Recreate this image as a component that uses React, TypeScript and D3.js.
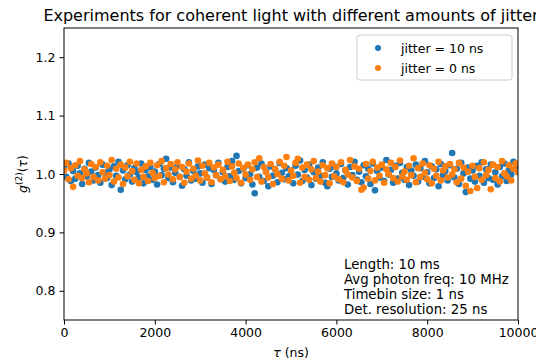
import React, { useEffect, useRef } from "react";
import * as d3 from "d3";

// tau in ns, one sample every 50 ns
const tau = [
  0, 50, 100, 150, 200, 250, 300, 350, 400, 450, 500, 550, 600, 650, 700, 750, 800, 850, 900, 950,
  1000, 1050, 1100, 1150, 1200, 1250, 1300, 1350, 1400, 1450, 1500, 1550, 1600, 1650, 1700, 1750, 1800, 1850, 1900, 1950,
  2000, 2050, 2100, 2150, 2200, 2250, 2300, 2350, 2400, 2450, 2500, 2550, 2600, 2650, 2700, 2750, 2800, 2850, 2900, 2950,
  3000, 3050, 3100, 3150, 3200, 3250, 3300, 3350, 3400, 3450, 3500, 3550, 3600, 3650, 3700, 3750, 3800, 3850, 3900, 3950,
  4000, 4050, 4100, 4150, 4200, 4250, 4300, 4350, 4400, 4450, 4500, 4550, 4600, 4650, 4700, 4750, 4800, 4850, 4900, 4950,
  5000, 5050, 5100, 5150, 5200, 5250, 5300, 5350, 5400, 5450, 5500, 5550, 5600, 5650, 5700, 5750, 5800, 5850, 5900, 5950,
  6000, 6050, 6100, 6150, 6200, 6250, 6300, 6350, 6400, 6450, 6500, 6550, 6600, 6650, 6700, 6750, 6800, 6850, 6900, 6950,
  7000, 7050, 7100, 7150, 7200, 7250, 7300, 7350, 7400, 7450, 7500, 7550, 7600, 7650, 7700, 7750, 7800, 7850, 7900, 7950,
  8000, 8050, 8100, 8150, 8200, 8250, 8300, 8350, 8400, 8450, 8500, 8550, 8600, 8650, 8700, 8750, 8800, 8850, 8900, 8950,
  9000, 9050, 9100, 9150, 9200, 9250, 9300, 9350, 9400, 9450, 9500, 9550, 9600, 9650, 9700, 9750, 9800, 9850, 9900, 9950,
  10000,
];

// g2 with jitter = 10 ns
const g2Jitter10 = [
  1.012, 0.995, 1.018, 0.988, 1.005, 0.992, 1.014, 1.001, 0.983, 1.009,
  0.996, 1.019, 1.004, 0.989, 1.011, 0.998, 0.985, 1.016, 1.002, 0.993,
  1.008, 0.981, 1.013, 0.997, 1.021, 0.973, 1.006, 0.991, 1.015, 0.999,
  0.987, 1.01, 1.003, 0.994, 1.018, 0.984, 1.007, 0.996, 1.012, 0.99,
  1.004, 0.982, 1.017, 0.998, 1.009, 1.026, 0.993, 1.011, 0.986, 1.002,
  1.014, 0.995, 0.98, 1.008, 0.997, 1.02, 0.989, 1.005, 0.992, 1.013,
  1.001, 0.985, 1.016, 0.994, 1.01, 0.983, 1.007, 0.998, 1.019, 0.991,
  1.003, 0.987, 1.012, 0.996, 1.022, 0.99, 1.031, 1.005, 0.984, 1.009,
  0.993, 1.015, 1.0, 0.982, 0.967, 1.011, 0.995, 1.018, 0.988, 1.004,
  0.979, 1.013, 0.997, 1.008, 0.986, 1.019, 1.002, 0.991, 1.01, 0.996,
  1.006, 0.984, 1.014, 0.999, 1.023, 0.988, 1.007, 0.994, 1.016, 0.981,
  1.003, 0.992, 1.011, 0.997, 1.02, 0.985, 0.979, 1.009, 0.995, 1.013,
  1.001, 0.989, 1.017, 0.993, 1.006, 0.982, 1.012, 0.998, 1.021, 0.99,
  1.004, 0.986, 1.015, 0.996, 1.009, 0.983, 1.018, 0.972, 1.005, 0.994,
  1.011, 0.988, 1.024, 0.999, 1.007, 0.985, 1.014, 0.992, 1.019, 1.002,
  0.99, 1.012, 0.981, 1.006, 0.997, 1.016, 0.987, 1.01, 0.995, 1.022,
  1.003, 0.984, 1.013, 0.993, 1.008, 0.979, 1.017, 0.998, 1.005, 0.989,
  1.015, 1.036, 0.994, 1.009, 0.983, 1.019, 1.001, 0.969, 1.011, 0.992,
  1.006, 0.987, 1.014, 0.997, 1.02, 0.985, 1.008, 0.993, 1.016, 0.99,
  1.003, 0.982, 1.012, 0.996, 1.018, 0.988, 1.007, 0.999, 1.021, 1.01,
  1.004,
];

// g2 with jitter = 0 ns
const g2Jitter0 = [
  1.006, 1.019, 0.991, 1.01, 0.978, 1.015, 0.997, 1.022, 0.993, 1.008,
  1.001, 0.986, 1.017, 0.995, 1.012, 0.989, 1.02, 1.003, 0.992, 1.014,
  0.998, 1.024, 0.987, 1.009, 0.994, 1.016, 0.983, 1.011, 0.996, 1.021,
  1.005, 0.99, 1.018, 0.984, 1.007, 0.995, 1.013, 0.988, 1.019, 1.002,
  0.993, 1.015, 0.997, 1.022, 0.986, 1.01, 0.999, 1.017, 0.991, 1.008,
  1.02, 0.995, 1.012, 0.985, 1.004, 1.018, 0.992, 1.009, 0.997, 1.023,
  0.989, 1.014, 1.001, 0.994, 1.019, 0.986, 1.011, 0.998, 1.016, 0.991,
  1.007, 0.996, 1.021, 0.988, 1.013, 1.002, 0.993, 1.018, 0.985, 1.01,
  0.999, 1.016, 0.99, 1.008, 1.02, 0.995, 1.027, 0.987, 1.012, 1.003,
  0.994, 1.017, 0.983, 1.009, 1.0, 1.021, 0.992, 1.014, 1.029, 0.989,
  1.006, 0.997, 1.019, 1.026, 0.985, 1.011, 0.995, 1.016, 0.99, 1.008,
  1.022, 0.993, 1.004, 0.987, 1.015, 0.998, 1.01, 0.984, 1.018, 0.996,
  1.012, 0.991, 1.02, 0.986, 1.007, 0.999, 1.024, 0.994, 1.013, 0.988,
  1.009, 0.973, 0.977, 1.017, 0.992, 1.005, 1.021, 0.989, 1.011, 0.997,
  1.016, 0.985, 1.008, 1.0, 1.019, 0.993, 1.012, 0.987, 1.023, 0.996,
  1.004, 0.99, 1.014, 0.998, 1.027, 0.986, 1.01, 0.995, 1.018, 1.002,
  0.991, 1.015, 0.984, 1.009, 0.997, 1.021, 0.989, 1.006, 1.013, 0.994,
  1.017, 0.999, 1.008, 0.986, 1.019, 0.992, 1.011, 0.98, 1.004, 0.971,
  1.014, 0.995, 0.976, 1.01, 0.99, 1.02, 0.998, 1.007, 0.974, 1.016,
  0.993, 1.012, 0.987, 1.022, 1.001, 0.996, 1.015, 0.989, 1.009, 1.018,
  1.003,
];

const seriesLabels = ["jitter = 10 ns", "jitter = 0 ns"];
const colors = ["#1f77b4", "#ff7f0e"];
const xTicks = [0, 2000, 4000, 6000, 8000, 10000];
const yTicks = [0.8, 0.9, 1.0, 1.1, 1.2];
const infoLines = [
  "Length: 10 ms",
  "Avg photon freq: 10 MHz",
  "Timebin size: 1 ns",
  "Det. resolution: 25 ns",
];

const W = 536;
const H = 363;
const FONT = "DejaVu Sans, sans-serif";

const App = () => {
  const ref = useRef(null);

  useEffect(() => {
    if (!ref.current) return;
    const root = d3.select(ref.current);
    root.selectAll("*").remove();

    const margin = { top: 28, right: 18, bottom: 43, left: 64 };
    const width = W - margin.left - margin.right;
    const height = H - margin.top - margin.bottom;

    const svg = root
      .attr("width", W)
      .attr("height", H)
      .style("font-family", FONT);

    svg.append("rect").attr("width", W).attr("height", H).attr("fill", "#fff");

    const g = svg.append("g").attr("transform", `translate(${margin.left},${margin.top})`);

    const x = d3.scaleLinear().domain([0, 10000]).range([0, width]);
    const y = d3.scaleLinear().domain([0.75, 1.25]).range([height, 0]);

    // clip points to the axes
    svg
      .append("clipPath")
      .attr("id", "plotclip")
      .append("rect")
      .attr("width", width)
      .attr("height", height);

    const pts = g.append("g").attr("clip-path", "url(#plotclip)");
    [g2Jitter10, g2Jitter0].forEach((vals, s) => {
      pts
        .append("g")
        .selectAll("circle")
        .data(vals)
        .enter()
        .append("circle")
        .attr("cx", (d, i) => x(tau[i]))
        .attr("cy", (d) => y(d))
        .attr("r", 3.3)
        .attr("fill", colors[s]);
    });

    // axes
    const xAxis = g
      .append("g")
      .attr("transform", `translate(0,${height})`)
      .call(d3.axisBottom(x).tickValues(xTicks).tickFormat(d3.format("d")).tickSizeOuter(0).tickSize(4.5).tickPadding(4));
    const yAxis = g
      .append("g")
      .call(d3.axisLeft(y).tickValues(yTicks).tickFormat(d3.format(".1f")).tickSizeOuter(0).tickSize(4.5).tickPadding(4));
    [xAxis, yAxis].forEach((a) => {
      a.selectAll("text").attr("font-size", 12.5).attr("font-family", FONT).attr("fill", "#000");
      a.selectAll("line").attr("stroke", "#000");
      a.select(".domain").remove();
    });

    // spines
    g.append("rect")
      .attr("width", width)
      .attr("height", height)
      .attr("fill", "none")
      .attr("stroke", "#000")
      .attr("stroke-width", 1);

    // title (wider than the figure on the right, like the original)
    svg
      .append("text")
      .attr("x", margin.left + width / 2)
      .attr("y", 21)
      .attr("text-anchor", "middle")
      .attr("font-size", 16)
      .text("Experiments for coherent light with different amounts of jitter");

    // x label
    const xl = svg
      .append("text")
      .attr("x", margin.left + width / 2)
      .attr("y", 357)
      .attr("text-anchor", "middle")
      .attr("font-size", 12.5);
    xl.append("tspan").attr("font-style", "italic").text("τ");
    xl.append("tspan").text(" (ns)");

    // y label
    const yl = svg
      .append("text")
      .attr("transform", `translate(27,${margin.top + y(1.0)}) rotate(-90)`)
      .attr("text-anchor", "middle")
      .attr("font-size", 12.5);
    yl.append("tspan").attr("font-style", "italic").text("g");
    yl.append("tspan").attr("font-size", 9).attr("dy", -5).text("(2)");
    yl.append("tspan").attr("dy", 5).text("(");
    yl.append("tspan").attr("font-style", "italic").text("τ");
    yl.append("tspan").text(")");

    // legend
    const lg = svg.append("g").attr("transform", "translate(357,35)");
    lg.append("rect")
      .attr("width", 155)
      .attr("height", 45)
      .attr("rx", 3)
      .attr("fill", "#fff")
      .attr("fill-opacity", 0.8)
      .attr("stroke", "#ccc");
    seriesLabels.forEach((lab, i) => {
      const row = lg.append("g").attr("transform", `translate(0,${13 + i * 20})`);
      row.append("circle").attr("cx", 21).attr("cy", 0).attr("r", 3).attr("fill", colors[i]);
      row.append("text").attr("x", 44).attr("y", 4.5).attr("font-size", 12.5).text(lab);
    });

    // run info
    svg
      .append("g")
      .selectAll("text")
      .data(infoLines)
      .enter()
      .append("text")
      .attr("x", 344)
      .attr("y", (d, i) => 269 + i * 15)
      .attr("font-size", 13.3)
      .text((d) => d);
  }, []);

  return (
    <svg
      ref={ref}
      style={{ position: "absolute", left: 0, top: 0, display: "block" }}
    />
  );
};

export default App;
